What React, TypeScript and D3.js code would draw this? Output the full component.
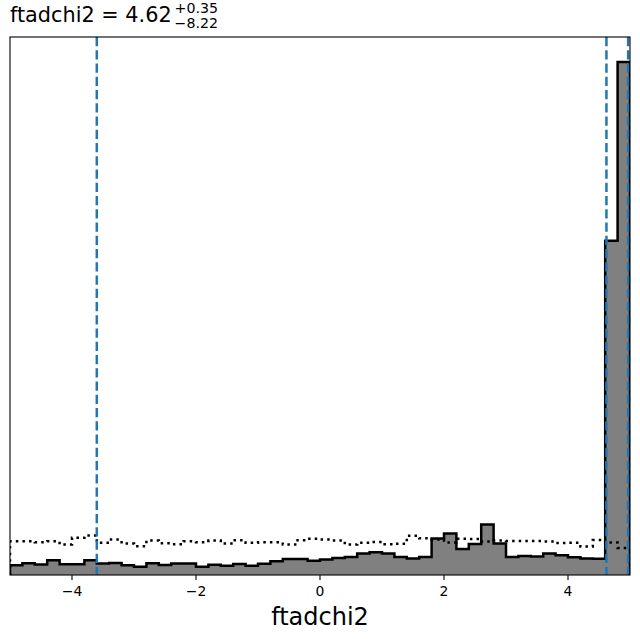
import React from "react";
import * as d3 from "d3";

const binLo = -5;
const binHi = 5;
const binCount = 50;

// posterior histogram (relative heights)
const posterior = [
  9.8, 11.8, 10.5, 14.8, 10.8, 10.8, 14.8, 11.5, 12, 9.8,
  8.2, 11.8, 10, 11.5, 11.5, 8.2, 10.2, 9.3, 11, 9.3,
  11.2, 13.8, 16, 16, 14.3, 15.5, 17, 18, 21.5, 22.8,
  21.5, 18, 16.5, 18, 36.5, 41.5, 26, 31, 50.5, 31.5,
  18, 19, 18.5, 21.5, 19.8, 17.8, 16.5, 16.2, 334.5, 513.5,
];

// prior histogram (dotted)
const prior = [
  33.8, 33.8, 32.8, 33.8, 30.5, 37.2, 39.5, 32.2, 35.5, 31.5,
  28.8, 34.5, 31.8, 30.8, 33.8, 32.8, 34.5, 31.5, 34.8, 32.2,
  32.8, 32.8, 30.5, 34.8, 36.2, 35.5, 34.5, 30.5, 32.2, 33,
  30.7, 31.3, 39.2, 36.7, 35.5, 32.5, 36.2, 36, 33.5, 34.5,
  34, 34, 34, 33.5, 32, 32.2, 28.5, 35, 32.5, 27,
];

const quantiles = [-3.6, 4.62, 4.97];
const xTicks = [-4, -2, 0, 2, 4];
const paramName = "ftadchi2";
const medianText = "4.62";
const plusText = "+0.35";
const minusText = "\u22128.22";

const W = 640;
const H = 639;
const left = 10;
const right = 630;
const top = 37;
const bottom = 575;

export default function App() {
  const x = d3.scaleLinear().domain([binLo, binHi]).range([left, right]);
  const maxV = d3.max(posterior) as number;
  const y = d3.scaleLinear().domain([0, maxV * 1.0487]).range([bottom, top]);
  const edges = d3.range(binCount + 1).map((i) => binLo + ((binHi - binLo) * i) / binCount);

  const stepPath = (vals: number[]) => {
    const p = d3.path();
    p.moveTo(x(edges[0]), y(0));
    vals.forEach((v, i) => {
      p.lineTo(x(edges[i]), y(v));
      p.lineTo(x(edges[i + 1]), y(v));
    });
    p.lineTo(x(edges[binCount]), y(0));
    return p.toString();
  };

  const post = stepPath(posterior);
  const pri = stepPath(prior);

  return (
    <svg
      width={W}
      height={H}
      style={{ position: "absolute", left: 0, top: 0, background: "#fff" }}
      fontFamily="DejaVu Sans, sans-serif"
    >
      <defs>
        <clipPath id="plotclip">
          <rect x={left} y={top} width={right - left} height={bottom - top} />
        </clipPath>
      </defs>
      <rect x={0} y={0} width={W} height={H} fill="#fff" />
      <g clipPath="url(#plotclip)">
        <path d={post + "Z"} fill="#808080" stroke="none" />
        <path d={post} fill="none" stroke="#000" strokeWidth={2.5} strokeLinejoin="miter" />
        <path d={pri} fill="none" stroke="#000" strokeWidth={2.5} strokeDasharray="2.5,4.1" />
        {quantiles.map((q, i) => (
          <line
            key={i}
            x1={x(q)}
            x2={x(q)}
            y1={top}
            y2={bottom}
            stroke="#1f77b4"
            strokeWidth={2.5}
            strokeDasharray="9.25,4"
          />
        ))}
      </g>
      <rect x={left} y={top} width={right - left} height={bottom - top} fill="none" stroke="#000" strokeWidth={1.1} />
      {xTicks.map((t) => (
        <g key={t}>
          <line x1={x(t)} x2={x(t)} y1={bottom} y2={bottom + 4.9} stroke="#000" strokeWidth={1.1} />
          <text x={x(t)} y={596} textAnchor="middle" fontSize={13.9} fill="#000">
            {t < 0 ? "\u2212" + Math.abs(t) : String(t)}
          </text>
        </g>
      ))}
      <text x={(left + right) / 2} y={625} textAnchor="middle" fontSize={24} fill="#000">
        {paramName}
      </text>
      <text x={10} y={22} fontSize={20.8} fill="#000">
        {paramName + " = " + medianText}
      </text>
      <text x={218} y={13} fontSize={14.2} textAnchor="end" fill="#000">
        {plusText}
      </text>
      <text x={218} y={28} fontSize={14.2} textAnchor="end" fill="#000">
        {minusText}
      </text>
    </svg>
  );
}
